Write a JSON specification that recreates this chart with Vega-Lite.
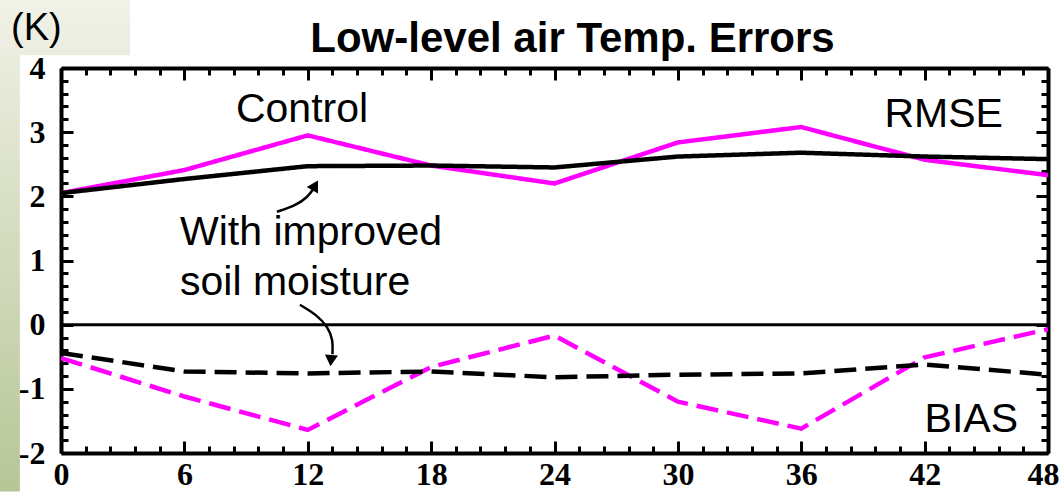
{
  "$schema": "https://vega.github.io/schema/vega-lite/v6.json",
  "autosize": {"type": "none"},
  "width": 987,
  "height": 385,
  "padding": {"left": 61, "top": 68, "right": 11, "bottom": 41},
  "background": "white",
  "title": {
    "text": "Low-level air Temp. Errors",
    "font": "Liberation Sans",
    "fontSize": 42,
    "fontWeight": "bold",
    "color": "black",
    "anchor": "middle",
    "frame": "group",
    "baseline": "alphabetic",
    "offset": 17,
    "dx": 18,
    "dy": 111
  },
  "config": {
    "view": {"stroke": null},
    "axis": {
      "zindex": 1,
      "domainColor": "black",
      "domainWidth": 4,
      "tickColor": "black",
      "tickWidth": 3,
      "grid": false,
      "labelFont": "Liberation Serif",
      "labelFontWeight": "bold",
      "labelFontSize": 32,
      "labelColor": "black",
      "labelOverlap": false,
      "labelBound": false,
      "labelFlush": false
    }
  },
  "datasets": {
    "errors": [
      {"hour": 0, "value": 2.05, "run": "Control", "metric": "RMSE"},
      {"hour": 6, "value": 2.41, "run": "Control", "metric": "RMSE"},
      {"hour": 12, "value": 2.95, "run": "Control", "metric": "RMSE"},
      {"hour": 18, "value": 2.48, "run": "Control", "metric": "RMSE"},
      {"hour": 24, "value": 2.2, "run": "Control", "metric": "RMSE"},
      {"hour": 30, "value": 2.84, "run": "Control", "metric": "RMSE"},
      {"hour": 36, "value": 3.08, "run": "Control", "metric": "RMSE"},
      {"hour": 42, "value": 2.57, "run": "Control", "metric": "RMSE"},
      {"hour": 48, "value": 2.33, "run": "Control", "metric": "RMSE"},
      {"hour": 0, "value": 2.05, "run": "Improved", "metric": "RMSE"},
      {"hour": 6, "value": 2.27, "run": "Improved", "metric": "RMSE"},
      {"hour": 12, "value": 2.47, "run": "Improved", "metric": "RMSE"},
      {"hour": 18, "value": 2.48, "run": "Improved", "metric": "RMSE"},
      {"hour": 24, "value": 2.45, "run": "Improved", "metric": "RMSE"},
      {"hour": 30, "value": 2.62, "run": "Improved", "metric": "RMSE"},
      {"hour": 36, "value": 2.68, "run": "Improved", "metric": "RMSE"},
      {"hour": 42, "value": 2.62, "run": "Improved", "metric": "RMSE"},
      {"hour": 48, "value": 2.58, "run": "Improved", "metric": "RMSE"},
      {"hour": 0, "value": -0.52, "run": "Control", "metric": "BIAS"},
      {"hour": 6, "value": -1.12, "run": "Control", "metric": "BIAS"},
      {"hour": 12, "value": -1.64, "run": "Control", "metric": "BIAS"},
      {"hour": 18, "value": -0.66, "run": "Control", "metric": "BIAS"},
      {"hour": 24, "value": -0.17, "run": "Control", "metric": "BIAS"},
      {"hour": 30, "value": -1.2, "run": "Control", "metric": "BIAS"},
      {"hour": 36, "value": -1.62, "run": "Control", "metric": "BIAS"},
      {"hour": 42, "value": -0.51, "run": "Control", "metric": "BIAS"},
      {"hour": 48, "value": -0.07, "run": "Control", "metric": "BIAS"},
      {"hour": 0, "value": -0.44, "run": "Improved", "metric": "BIAS"},
      {"hour": 6, "value": -0.73, "run": "Improved", "metric": "BIAS"},
      {"hour": 12, "value": -0.76, "run": "Improved", "metric": "BIAS"},
      {"hour": 18, "value": -0.73, "run": "Improved", "metric": "BIAS"},
      {"hour": 24, "value": -0.82, "run": "Improved", "metric": "BIAS"},
      {"hour": 30, "value": -0.78, "run": "Improved", "metric": "BIAS"},
      {"hour": 36, "value": -0.76, "run": "Improved", "metric": "BIAS"},
      {"hour": 42, "value": -0.62, "run": "Improved", "metric": "BIAS"},
      {"hour": 48, "value": -0.78, "run": "Improved", "metric": "BIAS"}
    ],
    "arrows": [
      {"arrow": "up", "order": 0, "hour": 10.5, "value": 1.76},
      {"arrow": "up", "order": 1, "hour": 11.38, "value": 1.85},
      {"arrow": "up", "order": 2, "hour": 12.01, "value": 1.99},
      {"arrow": "up", "order": 3, "hour": 12.3, "value": 2.13},
      {"arrow": "down", "order": 0, "hour": 11.62, "value": 0.31},
      {"arrow": "down", "order": 1, "hour": 12.45, "value": 0.15},
      {"arrow": "down", "order": 2, "hour": 12.99, "value": -0.04},
      {"arrow": "down", "order": 3, "hour": 13.23, "value": -0.24},
      {"arrow": "down", "order": 4, "hour": 13.2, "value": -0.46}
    ],
    "heads": [
      {"hour": 12.36, "value": 2.17, "angle": 30},
      {"hour": 13.13, "value": -0.56, "angle": 185}
    ],
    "notes": [
      {"label": "Control", "hour": 11.72, "value": 3.16},
      {"label": "RMSE", "hour": 45.81, "value": 3.08},
      {"label": "With improved", "hour": 5.79, "value": 1.24},
      {"label": "soil moisture", "hour": 5.79, "value": 0.46},
      {"label": "BIAS", "hour": 46.54, "value": -1.67},
      {"label": "(K)", "hour": -2.43, "value": 4.44}
    ]
  },
  "resolve": {"axis": {"x": "independent", "y": "independent"}},
  "layer": [
    {
      "data": {"values": [{}]},
      "mark": {
        "type": "rect",
        "color": {
          "gradient": "linear", "x1": 0, "y1": 0, "x2": 0, "y2": 1,
          "stops": [{"offset": 0, "color": "#f1f1e7"}, {"offset": 1, "color": "#b6c696"}]
        }
      },
      "encoding": {
        "x": {"datum": -2.97, "type": "quantitative", "axis": null},
        "x2": {"datum": -2.0},
        "y": {"datum": 5.06, "type": "quantitative", "axis": null},
        "y2": {"datum": -2.6}
      }
    },
    {
      "data": {"values": [{}]},
      "mark": {
        "type": "rect",
        "color": {
          "gradient": "linear", "x1": 0, "y1": 0, "x2": 0, "y2": 1,
          "stops": [{"offset": 0, "color": "#f1f1e7"}, {"offset": 1, "color": "#ecede0"}]
        }
      },
      "encoding": {
        "x": {"datum": -2.97, "type": "quantitative", "axis": null},
        "x2": {"datum": 3.36},
        "y": {"datum": 5.06, "type": "quantitative", "axis": null},
        "y2": {"datum": 4.2}
      }
    },
    {
      "data": {"values": [{}]},
      "mark": {"type": "rule", "color": "black", "strokeWidth": 3},
      "encoding": {
        "y": {"datum": 0, "type": "quantitative", "axis": null}
      }
    },
    {
      "data": {"name": "errors"},
      "mark": {"type": "line", "strokeWidth": 4.5, "clip": true},
      "encoding": {
        "x": {
          "field": "hour", "type": "quantitative",
          "scale": {"domain": [0, 48], "nice": false, "zero": false},
          "axis": {
            "orient": "bottom",
            "title": null,
            "values": [0, 1.2, 2.4, 3.6, 4.8, 6, 7.2, 8.4, 9.6, 10.8, 12, 13.2, 14.4, 15.6, 16.8, 18, 19.2, 20.4, 21.6, 22.8, 24, 25.2, 26.4, 27.6, 28.8, 30, 31.2, 32.4, 33.6, 34.8, 36, 37.2, 38.4, 39.6, 40.8, 42, 43.2, 44.4, 45.6, 46.8, 48],
            "labelExpr": "datum.value % 6 === 0 ? '' + datum.value : ''",
            "labelOffset": {"condition": {"test": "datum.value === 48", "value": -5}, "value": 0},
            "tickSize": {"condition": {"test": "datum.value % 6 === 0", "value": -12}, "value": -7},
            "labelPadding": 18
          }
        },
        "y": {
          "field": "value", "type": "quantitative",
          "scale": {"domain": [-2, 4], "nice": false, "zero": false},
          "axis": {
            "orient": "left",
            "title": null,
            "values": [-2, -1.8, -1.6, -1.4, -1.2, -1, -0.8, -0.6, -0.4, -0.2, 0, 0.2, 0.4, 0.6, 0.8, 1, 1.2, 1.4, 1.6, 1.8, 2, 2.2, 2.4, 2.6, 2.8, 3, 3.2, 3.4, 3.6, 3.8, 4],
            "labelExpr": "datum.value % 1 === 0 ? '' + datum.value : ''",
            "tickSize": {"condition": {"test": "datum.value % 1 === 0", "value": -12}, "value": -7},
            "labelPadding": 28
          }
        },
        "color": {
          "field": "run", "type": "nominal", "legend": null,
          "scale": {"domain": ["Control", "Improved"], "range": ["#ff00ff", "black"]}
        },
        "strokeDash": {
          "field": "metric", "type": "nominal", "legend": null,
          "scale": {"domain": ["RMSE", "BIAS"], "range": [[1, 0], [22, 9]]}
        }
      }
    },
    {
      "data": {"name": "arrows"},
      "mark": {"type": "line", "interpolate": "basis", "color": "black", "strokeWidth": 2.5},
      "encoding": {
        "x": {"field": "hour", "type": "quantitative", "axis": null},
        "y": {"field": "value", "type": "quantitative", "axis": null},
        "detail": {"field": "arrow"},
        "order": {"field": "order"}
      }
    },
    {
      "data": {"name": "heads"},
      "mark": {"type": "point", "shape": "triangle-up", "filled": true, "color": "black", "opacity": 1, "size": 170},
      "encoding": {
        "x": {"field": "hour", "type": "quantitative", "axis": null},
        "y": {"field": "value", "type": "quantitative", "axis": null},
        "angle": {"field": "angle", "type": "quantitative", "scale": null}
      }
    },
    {
      "data": {"name": "notes"},
      "transform": [{"filter": {"field": "label", "oneOf": ["Control"]}}],
      "mark": {"type": "text", "font": "Liberation Sans", "fontSize": 41, "color": "black", "baseline": "alphabetic", "align": "center"},
      "encoding": {
        "x": {"field": "hour", "type": "quantitative", "axis": null},
        "y": {"field": "value", "type": "quantitative", "axis": null},
        "text": {"field": "label"}
      }
    },
    {
      "data": {"name": "notes"},
      "transform": [{"filter": {"field": "label", "oneOf": ["With improved", "soil moisture"]}}],
      "mark": {"type": "text", "font": "Liberation Sans", "fontSize": 41, "color": "black", "baseline": "alphabetic", "align": "left"},
      "encoding": {
        "x": {"field": "hour", "type": "quantitative", "axis": null},
        "y": {"field": "value", "type": "quantitative", "axis": null},
        "text": {"field": "label"}
      }
    },
    {
      "data": {"name": "notes"},
      "transform": [{"filter": {"field": "label", "oneOf": ["(K)"]}}],
      "mark": {"type": "text", "font": "Liberation Sans", "fontSize": 38, "color": "black", "baseline": "alphabetic", "align": "left"},
      "encoding": {
        "x": {"field": "hour", "type": "quantitative", "axis": null},
        "y": {"field": "value", "type": "quantitative", "axis": null},
        "text": {"field": "label"}
      }
    },
    {
      "data": {"name": "notes"},
      "transform": [{"filter": {"field": "label", "oneOf": ["RMSE", "BIAS"]}}],
      "mark": {"type": "text", "font": "Liberation Sans", "fontSize": 41, "color": "black", "baseline": "alphabetic", "align": "right"},
      "encoding": {
        "x": {
          "field": "hour", "type": "quantitative",
          "axis": {
            "orient": "top",
            "title": null,
            "labels": false,
            "values": [0, 1.2, 2.4, 3.6, 4.8, 6, 7.2, 8.4, 9.6, 10.8, 12, 13.2, 14.4, 15.6, 16.8, 18, 19.2, 20.4, 21.6, 22.8, 24, 25.2, 26.4, 27.6, 28.8, 30, 31.2, 32.4, 33.6, 34.8, 36, 37.2, 38.4, 39.6, 40.8, 42, 43.2, 44.4, 45.6, 46.8, 48],
            "tickSize": {"condition": {"test": "datum.value % 6 === 0", "value": -12}, "value": -7}
          }
        },
        "y": {
          "field": "value", "type": "quantitative",
          "axis": {
            "orient": "right",
            "title": null,
            "labels": false,
            "values": [-2, -1.8, -1.6, -1.4, -1.2, -1, -0.8, -0.6, -0.4, -0.2, 0, 0.2, 0.4, 0.6, 0.8, 1, 1.2, 1.4, 1.6, 1.8, 2, 2.2, 2.4, 2.6, 2.8, 3, 3.2, 3.4, 3.6, 3.8, 4],
            "tickSize": {"condition": {"test": "datum.value % 1 === 0", "value": -12}, "value": -7}
          }
        },
        "text": {"field": "label"}
      }
    }
  ]
}
